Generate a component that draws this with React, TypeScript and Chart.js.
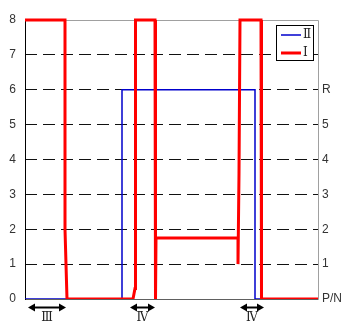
import { useEffect, useRef } from "react";
import { Chart, registerables } from "chart.js";

Chart.register(...registerables);

// Series II (blue) step path: x offsets (time units) and levels
const seriesIIx = [0, 97, 97, 230, 230, 293];
const seriesIIy = [0, 0, 6, 6, 0, 0];
// Series I (red) step path
const seriesIx = [0, 40, 40, 41, 42, 108, 110, 110.5, 130, 130.5, 131, 213, 213, 214, 215, 236, 236.5, 293];
const seriesIy = [8, 8, 2, 1, 0, 0, 0.3, 8, 8, 0, 1.75, 1.75, 1, 3.6, 8, 8, 0, 0];

const seriesNames = ["Ⅱ", "Ⅰ"];
const seriesColors = ["#0000cc", "#ff0000"];

const yTicks = [0, 1, 2, 3, 4, 5, 6, 7, 8];
const rightLabels = ["P/N", "1", "2", "3", "4", "5", "R", "", ""];

const phaseStart = [3, 105, 215];
const phaseEnd = [41, 130, 239];
const phaseLabels = ["Ⅲ", "Ⅳ", "Ⅳ"];

const xMax = 293;

export default function App() {
  const ref = useRef<HTMLCanvasElement | null>(null);

  useEffect(() => {
    if (!ref.current) return;

    const framePlugin = {
      id: "frame",
      beforeDatasetsDraw(chart: any) {
        const { ctx, chartArea: a } = chart;
        ctx.save();
        ctx.lineWidth = 1;
        ctx.setLineDash([]);
        ctx.strokeStyle = "#a0a0a0";
        ctx.beginPath();
        ctx.moveTo(a.left, a.top + 0.5);
        ctx.lineTo(a.right + 0.5, a.top + 0.5);
        ctx.lineTo(a.right + 0.5, a.bottom);
        ctx.stroke();
        ctx.strokeStyle = "#606060";
        ctx.beginPath();
        ctx.moveTo(a.left, a.bottom + 0.5);
        ctx.lineTo(a.right + 0.5, a.bottom + 0.5);
        ctx.stroke();
        ctx.strokeStyle = "#000";
        ctx.beginPath();
        ctx.moveTo(a.left + 0.5, a.top);
        ctx.lineTo(a.left + 0.5, a.bottom + 1);
        ctx.stroke();
        ctx.restore();
      },
      afterDraw(chart: any) {
        const { ctx } = chart;
        const xs = chart.scales.x;
        ctx.save();
        // phase arrows
        const ay = 307.5;
        ctx.strokeStyle = "#000";
        ctx.fillStyle = "#000";
        ctx.lineWidth = 2;
        for (let i = 0; i < phaseStart.length; i++) {
          const x1 = xs.getPixelForValue(phaseStart[i]);
          const x2 = xs.getPixelForValue(phaseEnd[i]);
          ctx.beginPath();
          ctx.moveTo(x1 + 4, ay);
          ctx.lineTo(x2 - 4, ay);
          ctx.stroke();
          ctx.beginPath();
          ctx.moveTo(x1, ay);
          ctx.lineTo(x1 + 7, ay - 4);
          ctx.lineTo(x1 + 7, ay + 4);
          ctx.closePath();
          ctx.fill();
          ctx.beginPath();
          ctx.moveTo(x2, ay);
          ctx.lineTo(x2 - 7, ay - 4);
          ctx.lineTo(x2 - 7, ay + 4);
          ctx.closePath();
          ctx.fill();
          ctx.font = '12px "DejaVu Serif"';
          ctx.textAlign = "center";
          ctx.textBaseline = "middle";
          ctx.fillStyle = "#222";
          ctx.fillText(phaseLabels[i], (x1 + x2) / 2, 318);
          ctx.fillStyle = "#000";
        }
        // legend
        const lx = 276.5, ly = 25.5, lw = 37, lh = 35;
        ctx.fillStyle = "#fff";
        ctx.fillRect(lx, ly, lw, lh);
        ctx.strokeStyle = "#000";
        ctx.lineWidth = 1;
        ctx.strokeRect(lx, ly, lw, lh);
        const rows = [35, 53];
        for (let i = 0; i < seriesNames.length; i++) {
          ctx.strokeStyle = seriesColors[i];
          ctx.lineWidth = i === 0 ? 1.5 : 3;
          ctx.beginPath();
          ctx.moveTo(281, rows[i]);
          ctx.lineTo(301, rows[i]);
          ctx.stroke();
          ctx.fillStyle = "#222";
          ctx.font = '12px "DejaVu Serif"';
          ctx.textAlign = "left";
          ctx.textBaseline = "middle";
          ctx.fillText(seriesNames[i], 303, rows[i]);
        }
        ctx.restore();
      },
    };

    const chart = new Chart(ref.current, {
      type: "line",
      data: {
        datasets: [
          {
            label: seriesNames[1],
            data: seriesIx.map((x, i) => ({ x, y: seriesIy[i] })),
            borderColor: seriesColors[1],
            borderWidth: 3,
            pointRadius: 0,
            tension: 0,
            clip: { left: false, top: false, right: false, bottom: 0 } as any,
            yAxisID: "y",
          },
          {
            label: seriesNames[0],
            data: seriesIIx.map((x, i) => ({ x, y: seriesIIy[i] })),
            borderColor: seriesColors[0],
            borderWidth: 1.5,
            pointRadius: 0,
            tension: 0,
            clip: { left: false, top: false, right: false, bottom: 0 } as any,
            yAxisID: "y",
          },
        ],
      },
      options: {
        animation: false,
        responsive: false,
        layout: { padding: { top: 20, bottom: 31, left: 0, right: 0 } },
        plugins: { legend: { display: false }, tooltip: { enabled: false } },
        scales: {
          x: { type: "linear", min: 0, max: xMax, display: false },
          y: {
            position: "left",
            min: 0,
            max: 8,
            afterBuildTicks: (s: any) => {
              s.ticks = yTicks.map((v) => ({ value: v }));
            },
            afterFit: (s: any) => {
              s.width = 25;
            },
            ticks: {
              padding: 9,
              color: "#333",
              font: { family: '"Liberation Sans", Arial, sans-serif', size: 12 },
            },
            grid: {
              drawTicks: false,
              lineWidth: 1,
              color: (c: any) =>
                c.tick && (c.tick.value === 0 || c.tick.value === 8) ? "rgba(0,0,0,0)" : "#111",
            },
            border: { display: false, dash: [12, 6] },
          },
          y2: {
            position: "right",
            min: 0,
            max: 8,
            afterBuildTicks: (s: any) => {
              s.ticks = yTicks.map((v) => ({ value: v }));
            },
            afterFit: (s: any) => {
              s.width = 32;
            },
            ticks: {
              padding: 4,
              color: "#333",
              font: { family: '"Liberation Sans", Arial, sans-serif', size: 12 },
              callback: (v: any) => rightLabels[yTicks.indexOf(Number(v))] ?? "",
            },
            grid: { display: false, drawTicks: false },
            border: { display: false },
          },
        },
      },
      plugins: [framePlugin],
    });
    return () => chart.destroy();
  }, []);

  return (
    <div style={{ position: "fixed", left: 0, top: 0, width: 350, height: 330, background: "#fff" }}>
      <canvas ref={ref} width={350} height={330} />
    </div>
  );
}
